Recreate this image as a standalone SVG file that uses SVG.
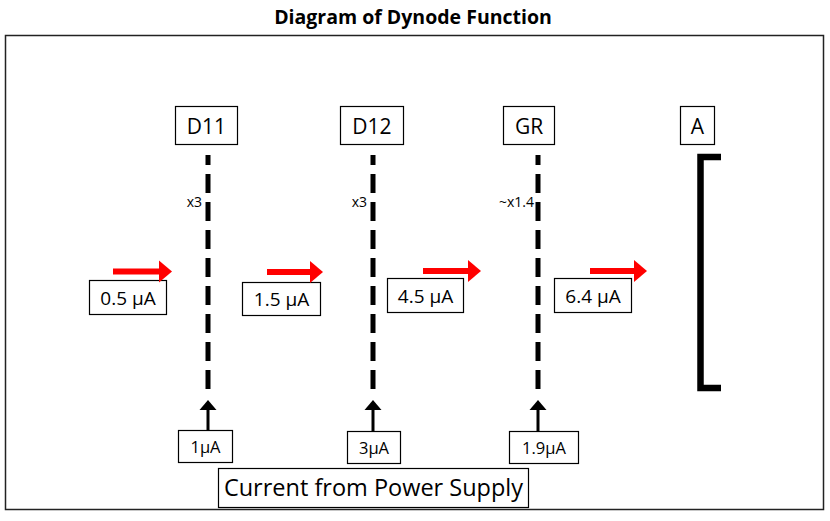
<svg xmlns="http://www.w3.org/2000/svg" width="830" height="521" viewBox="0 0 830 521">
<defs>
<style>
.t{font-family:"Open Sans","Noto Sans","DejaVu Sans",sans-serif;fill:#000;text-anchor:middle}
.box{fill:#fff;stroke:#000;stroke-width:1.2}
.dyn{stroke:#000;stroke-width:5;stroke-dasharray:19 9;stroke-dashoffset:9;fill:none}
.up{stroke:#000;stroke-width:3;fill:none}
.red{stroke:#ff0000;stroke-width:6;fill:none}
</style>
<polygon id="uphead" points="-8.5,10 8.5,10 0,0" fill="#000"/>
<polygon id="redhead" points="0,-11 13,0 0,11" fill="#ff0000"/>
</defs>
<rect width="830" height="521" fill="#fff"/>
<text x="413" y="24" class="t" style="font-weight:bold;font-size:19.5px">Diagram of Dynode Function</text>
<rect x="5.5" y="35.5" width="818" height="474" fill="none" stroke="#222" stroke-width="1.5"/>

<g id="D11">
<rect class="box" x="175.5" y="106.5" width="62" height="38"/>
<text class="t" x="206.5" y="133.5" style="font-size:21px">D11</text>
</g>
<g id="D12">
<rect class="box" x="340.5" y="106.5" width="63" height="38"/>
<text class="t" x="372" y="133.5" style="font-size:21px">D12</text>
</g>
<g id="GR">
<rect class="box" x="503.5" y="106.5" width="51" height="38"/>
<text class="t" x="529" y="133.5" style="font-size:21px">GR</text>
</g>
<g id="A">
<rect class="box" x="680.5" y="106.5" width="34" height="38"/>
<text class="t" x="697.5" y="133.5" style="font-size:21px">A</text>
<path d="M721,157 H700.5 V388 H721" fill="none" stroke="#000" stroke-width="6.5"/>
</g>

<g id="connectors">
<line class="dyn" x1="208" y1="155" x2="208" y2="391"/>
<line class="dyn" x1="373" y1="155" x2="373" y2="391"/>
<line class="dyn" x1="538" y1="155" x2="538" y2="391"/>
<line class="up" x1="208" y1="430" x2="208" y2="408"/>
<use href="#uphead" x="208" y="400"/>
<line class="up" x1="373" y1="431" x2="373" y2="408"/>
<use href="#uphead" x="373" y="400"/>
<line class="up" x1="538" y1="431" x2="538" y2="408"/>
<use href="#uphead" x="538" y="400"/>
</g>

<g id="mult">
<text class="t" x="202" y="207" style="font-size:14px;text-anchor:end">x3</text>
<text class="t" x="367" y="207" style="font-size:14px;text-anchor:end">x3</text>
<text class="t" x="534" y="207" style="font-size:14px;text-anchor:end">~x1.4</text>
</g>

<g id="v05">
<rect class="box" x="89.5" y="280.5" width="77" height="34"/>
<text class="t" x="128" y="304.5" style="font-size:19px">0.5 μA</text>
</g>
<g id="v15">
<rect class="box" x="242.5" y="282.5" width="78" height="33"/>
<text class="t" x="281.5" y="305.5" style="font-size:19px">1.5 μA</text>
</g>
<g id="v45">
<rect class="box" x="387.5" y="278.5" width="76" height="34"/>
<text class="t" x="425.5" y="302.5" style="font-size:19px">4.5 μA</text>
</g>
<g id="v64">
<rect class="box" x="554.5" y="278.5" width="77" height="34"/>
<text class="t" x="593" y="302.5" style="font-size:19px">6.4 μA</text>
</g>

<g id="flow">
<line class="red" x1="113" y1="271.5" x2="160" y2="271.5"/>
<use href="#redhead" x="159" y="271.5"/>
<line class="red" x1="267" y1="272" x2="311" y2="272"/>
<use href="#redhead" x="310" y="272"/>
<line class="red" x1="423" y1="271" x2="469" y2="271"/>
<use href="#redhead" x="468" y="271"/>
<line class="red" x1="590" y1="271" x2="635" y2="271"/>
<use href="#redhead" x="634" y="271"/>
</g>

<g id="s1">
<rect class="box" x="178.5" y="430.5" width="54" height="32"/>
<text class="t" x="205.5" y="453" style="font-size:16.5px">1μA</text>
</g>
<g id="s3">
<rect class="box" x="347.5" y="431.5" width="53" height="32"/>
<text class="t" x="374" y="454" style="font-size:16.5px">3μA</text>
</g>
<g id="s19">
<rect class="box" x="509.5" y="431.5" width="69" height="32"/>
<text class="t" x="544" y="454" style="font-size:16.5px">1.9μA</text>
</g>
<g id="supply">
<rect class="box" x="218.5" y="468.5" width="310" height="39" stroke-width="1.5"/>
<text class="t" x="373.5" y="495.5" style="font-size:23.5px">Current from Power Supply</text>
</g>
</svg>
